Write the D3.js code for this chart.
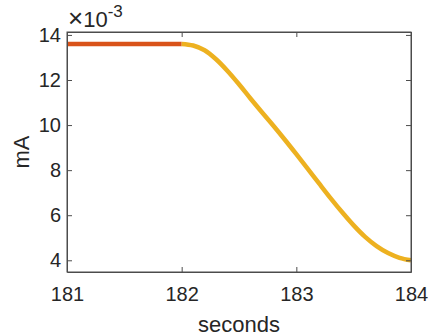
<!DOCTYPE html>
<html>
<head>
<meta charset="utf-8">
<script src="https://cdn.jsdelivr.net/npm/d3@7"></script>
<style>
  body { margin: 0; background: #fff; }
  svg text { font-family: "Liberation Sans", Arial, sans-serif; fill: #262626; }
  .axis path, .axis line { stroke: #4d4d4d; }
</style>
</head>
<body>
<svg class="chart" width="428" height="336"></svg>
<script>
// values in units of 1e-3 mA
var heldT = [181, 182];
var heldI = [13.6, 13.6];

var decayT = [182.0, 182.1, 182.2, 182.3, 182.4, 182.5, 182.6, 182.7, 182.8, 182.9, 183.0,
              183.1, 183.2, 183.3, 183.4, 183.5, 183.6, 183.7, 183.8, 183.9, 184.0];
var decayI = [13.60, 13.53, 13.32, 12.92, 12.40, 11.81, 11.18, 10.57, 9.97, 9.35, 8.71,
              8.06, 7.40, 6.75, 6.13, 5.55, 5.04, 4.63, 4.32, 4.11, 4.00];

var xTicks = [181, 182, 183, 184];
var yTicks = [4, 6, 8, 10, 12, 14];

var svg = d3.select("svg.chart"),
    margin = {top: 32, right: 17, bottom: 64, left: 67},
    width = +svg.attr("width") - margin.left - margin.right,
    height = +svg.attr("height") - margin.top - margin.bottom,
    g = svg.append("g").attr("transform", "translate(" + margin.left + "," + margin.top + ")");

var x = d3.scaleLinear().domain([181, 184]).range([0, width]);
var y = d3.scaleLinear().domain([3.48, 14.13]).range([height, 0]);

var line = d3.line()
    .curve(d3.curveCatmullRom)
    .x(function (d) { return x(d[0]); })
    .y(function (d) { return y(d[1]); });

g.append("path")
    .datum(d3.zip(heldT, heldI))
    .attr("fill", "none")
    .attr("stroke", "#D95319")
    .attr("stroke-width", 4.5)
    .attr("d", line);

g.append("path")
    .datum(d3.zip(decayT, decayI))
    .attr("fill", "none")
    .attr("stroke", "#EDB120")
    .attr("stroke-width", 4.5)
    .attr("d", line);

g.append("g")
    .attr("class", "axis axis--x")
    .attr("transform", "translate(0," + height + ")")
    .call(d3.axisBottom(x).tickValues(xTicks).tickFormat(d3.format("d"))
      .tickSizeInner(-5).tickSizeOuter(0).tickPadding(15));

g.append("g")
    .attr("class", "axis axis--top")
    .call(d3.axisTop(x).tickValues(xTicks).tickFormat("")
      .tickSizeInner(-5).tickSizeOuter(0));

g.append("g")
    .attr("class", "axis axis--y")
    .call(d3.axisLeft(y).tickValues(yTicks).tickFormat(d3.format("d"))
      .tickSizeInner(-5).tickSizeOuter(0).tickPadding(6));

g.append("g")
    .attr("class", "axis axis--right")
    .attr("transform", "translate(" + width + ",0)")
    .call(d3.axisRight(y).tickValues(yTicks).tickFormat("")
      .tickSizeInner(-5).tickSizeOuter(0));

svg.selectAll(".axis text")
    .style("font-size", "20px")
    .style("font-family", "'Liberation Sans', Arial, sans-serif")
    .attr("fill", "#262626");

g.append("rect")
    .attr("width", width).attr("height", height)
    .attr("fill", "none").attr("stroke", "#4d4d4d");

g.append("text")
    .attr("text-anchor", "middle")
    .attr("x", width / 2)
    .attr("y", height + 60)
    .style("font-size", "22px")
    .text("seconds");

g.append("text")
    .attr("text-anchor", "middle")
    .attr("transform", "rotate(-90)")
    .attr("x", -height / 2)
    .attr("y", -38)
    .style("font-size", "22px")
    .text("mA");

var mult = g.append("text")
    .attr("x", 1)
    .attr("y", -5)
    .style("font-size", "22px");
mult.append("tspan").style("font-size", "26px").text("\u00d7");
mult.append("tspan").text("10");
mult.append("tspan").attr("dy", -10).style("font-size", "17px").text("-3");
</script>
</body>
</html>
